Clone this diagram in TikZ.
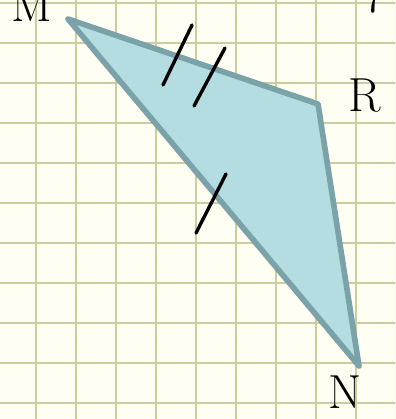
\documentclass[tikz,border=0pt]{standalone}
\usepackage{fontspec}
\usepackage{xcolor}
\usepackage{tikz}
\usetikzlibrary{positioning}
\definecolor{paper}{HTML}{FEFEF2}
\definecolor{gridline}{HTML}{CACD9E}
\definecolor{trifill}{HTML}{B3DDE0}
\definecolor{triedge}{HTML}{7BA2A8}

\tikzset{
  vlabel/.style={anchor=base, inner sep=0pt, font=\fontsize{34}{34}\selectfont},
  tick/.style={black, line width=2.4pt, line cap=round}
}

\begin{document}
\begin{tikzpicture}[x=0.025cm, y=-0.025cm]
    \useasboundingbox (0,0) rectangle (395,419);
    \clip (0,0) rectangle (395,419);
    \fill[paper] (0,0) rectangle (395,419);
    % squared paper
    \foreach \gx in {36,76,...,396}
      \draw[gridline, line width=1.5pt] (\gx,0) -- (\gx,419);
    \foreach \gy in {3,43,...,403}
      \draw[gridline, line width=1.5pt] (0,\gy) -- (395,\gy);

    \coordinate (M) at (68,19);
    \coordinate (R) at (318,104);
    \coordinate (N) at (359,366);
    \filldraw[fill=trifill, draw=triedge, line width=4pt, line join=round] (M) -- (R) -- (N) -- cycle;

    % equal sides
    \draw[tick] (192,25) -- (163,85);
    \draw[tick] (225,48) -- (194,106);
    \draw[tick] (226,174) -- (196,233);

    \node[vlabel] (labM) at (32,22) {M};
    \node[vlabel] (labR) at (365,112) {R};
    \node[vlabel] (labN) at (345,408) {N};
    \node[vlabel] (top7) at (374,13) {7};
  \end{tikzpicture}
\end{document}
